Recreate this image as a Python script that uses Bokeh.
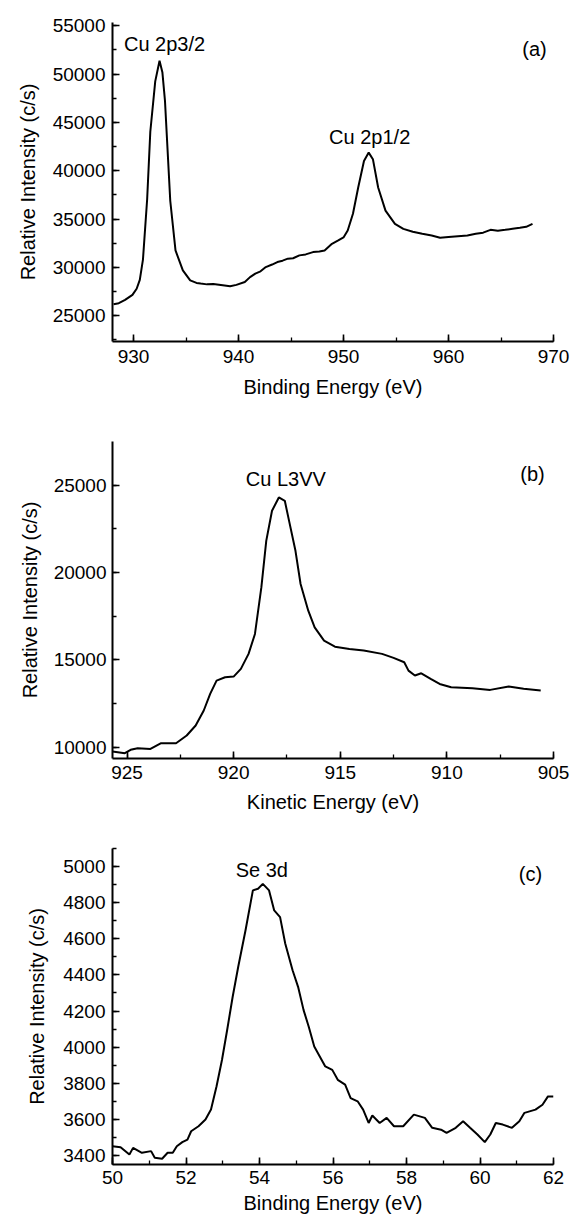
from bokeh.plotting import figure
from bokeh.models import Range1d, SingleIntervalTicker, Label
from bokeh.layouts import column
from bokeh.embed import file_html
from bokeh.resources import INLINE

FONT = "Liberation Sans"

# ---- Panel (a): Cu 2p ----
a_energy = [928.1, 928.6, 929.2, 929.9, 930.3, 930.6, 930.9, 931.3, 931.6, 932.07, 932.48,
            932.75, 933.0, 933.5, 934.0, 934.7, 935.4, 936.0, 936.4, 937.0, 937.6, 938.5, 939.2,
            939.8, 940.6, 941.1, 941.6, 942.1, 942.6, 943.2, 943.7, 944.2, 944.7, 945.2, 945.8,
            946.4, 947.1, 947.7, 948.2, 948.9, 949.5, 950.0, 950.4, 950.9, 951.4, 951.95, 952.4,
            952.8, 953.3, 954.0, 954.9, 955.7, 956.6, 957.5, 958.4, 959.2, 960.0, 960.9, 961.8,
            962.6, 963.3, 964.0, 964.7, 965.4, 966.1, 966.8, 967.4, 968.0]
a_intensity = [26200, 26300, 26640, 27160, 27800, 28720, 30800, 37060, 44040, 49250, 51380,
               50200, 47200, 36900, 31760, 29700, 28670, 28400, 28330, 28250, 28300, 28160, 28050,
               28200, 28500, 29000, 29360, 29600, 30040, 30300, 30560, 30700, 30910, 30950, 31250,
               31350, 31590, 31650, 31760, 32450, 32790, 33100, 33820, 35560, 38270, 41020, 41880,
               41200, 38270, 35880, 34510, 33990, 33700, 33480, 33300, 33070, 33150, 33230, 33300,
               33480, 33600, 33890, 33800, 33890, 34000, 34100, 34200, 34510]

# ---- Panel (b): Cu L3VV ----
b_energy = [925.68, 925.1, 924.83, 924.5, 923.9, 923.4, 922.7, 922.2, 921.78, 921.4, 921.1,
            920.8, 920.4, 920.0, 919.66, 919.3, 919.0, 918.7, 918.47, 918.2, 917.88, 917.6,
            917.4, 917.1, 916.86, 916.5, 916.2, 915.76, 915.25, 914.57, 913.9, 913.04, 912.5,
            912.0, 911.8, 911.5, 911.2, 910.76, 910.34, 909.8, 908.8, 907.97, 907.1, 906.4,
            905.6]
b_intensity = [9754, 9660, 9850, 9940, 9900, 10230, 10230, 10670, 11240, 12100, 13050,
               13810, 14000, 14040, 14480, 15340, 16480, 19140, 21810, 23530, 24290, 24100,
               22950, 21240, 19340, 17810, 16860, 16100, 15750, 15620, 15530, 15340, 15110,
               14860, 14380, 14100, 14230, 13910, 13620, 13430, 13370, 13280, 13470, 13340,
               13240]

# ---- Panel (c): Se 3d ----
c_energy = [50.0, 50.22, 50.46, 50.56, 50.8, 51.05, 51.15, 51.35, 51.5, 51.64, 51.75, 51.9,
            52.04, 52.14, 52.34, 52.53, 52.68, 52.83, 52.98, 53.12, 53.27, 53.42, 53.62, 53.82,
            53.96, 54.09, 54.26, 54.4, 54.56, 54.7, 54.9, 55.05, 55.2, 55.34, 55.49, 55.64,
            55.79, 55.98, 56.13, 56.33, 56.48, 56.67, 56.82, 56.97, 57.07, 57.27, 57.46, 57.66,
            57.91, 58.2, 58.5, 58.7, 58.94, 59.09, 59.34, 59.54, 59.73, 59.93, 60.13, 60.28,
            60.43, 60.62, 60.87, 61.07, 61.21, 61.51, 61.7, 61.85, 62.0]
c_intensity = [3451, 3446, 3405, 3442, 3415, 3424, 3387, 3382, 3415, 3415, 3451, 3474,
               3488, 3534, 3562, 3599, 3654, 3782, 3930, 4095, 4279, 4444, 4647, 4868,
               4877, 4904, 4868, 4757, 4720, 4574, 4426, 4334, 4205, 4113, 4003, 3948,
               3893, 3874, 3819, 3792, 3718, 3700, 3654, 3580, 3621, 3580, 3608, 3562,
               3562, 3626, 3608, 3553, 3543, 3525, 3553, 3589, 3553, 3516, 3474, 3516,
               3580, 3571, 3553, 3589, 3636, 3654, 3681, 3727, 3727]

W = 574
panels = [
    dict(x=a_energy, y=a_intensity, xr=(928.0, 970.0), yr=(22340, 55340),
         xint=10, yint=5000, xlabel="Binding Energy (eV)", tag="(a)",
         peaks=[("Cu 2p3/2", a_energy[10], a_intensity[10], 5, 6),
                ("Cu 2p1/2", a_energy[46], a_intensity[46], 1, 5)],
         h=410, bl=108, bt=22, fh=319, tagpos=(422, 293),
         xls=8, xas=10, yls=7, yas=11),
    dict(x=b_energy, y=b_intensity, xr=(925.68, 905.0), yr=(9354, 27493),
         xint=5, yint=5000, xlabel="Kinetic Energy (eV)", tag="(b)",
         peaks=[("Cu L3VV", b_energy[20], b_intensity[20], 7, 7)],
         h=412, bl=112, bt=31, fh=317, tagpos=(420, 285),
         xls=7, xas=9, yls=6, yas=10),
    dict(x=c_energy, y=c_intensity, xr=(50, 62), yr=(3350, 5100),
         xint=2, yint=200, xlabel="Binding Energy (eV)", tag="(c)",
         peaks=[("Se 3d", c_energy[25], c_intensity[25], -1, 3)],
         h=402, bl=107, bt=26, fh=316, tagpos=(418, 291),
         xls=6, xas=5, yls=7, yas=12),
]

figs = []
for P in panels:
    br = W - P["bl"] - 446
    bb = P["h"] - P["bt"] - P["fh"]
    p = figure(width=W, height=P["h"], output_backend="svg", toolbar_location=None,
               x_range=Range1d(*P["xr"]), y_range=Range1d(*P["yr"]),
               min_border_left=P["bl"], min_border_right=br,
               min_border_top=P["bt"], min_border_bottom=bb)
    p.outline_line_color = None
    p.grid.visible = False
    p.background_fill_color = "white"
    p.border_fill_color = "white"
    p.line(P["x"], P["y"], line_color="black", line_width=2)

    p.xaxis.ticker = SingleIntervalTicker(interval=P["xint"], num_minor_ticks=2)
    p.yaxis.ticker = SingleIntervalTicker(interval=P["yint"], num_minor_ticks=2)
    for ax in (p.xaxis[0], p.yaxis[0]):
        ax.axis_line_width = 2
        ax.axis_line_color = "black"
        ax.major_tick_in = 7
        ax.major_tick_out = 0
        ax.minor_tick_in = 4
        ax.minor_tick_out = 0
        ax.major_tick_line_width = 1.6
        ax.minor_tick_line_width = 1.3
        ax.major_label_text_font = FONT
        ax.major_label_text_font_size = "19px"
        ax.major_label_text_color = "black"
        ax.axis_label_text_font = FONT
        ax.axis_label_text_font_size = "20px"
        ax.axis_label_text_font_style = "normal"
        ax.axis_label_text_color = "black"
    p.xaxis.axis_label = P["xlabel"]
    p.yaxis.axis_label = "Relative Intensity (c/s)"
    p.xaxis.major_label_standoff = P["xls"]
    p.xaxis.axis_label_standoff = P["xas"]
    p.yaxis.major_label_standoff = P["yls"]
    p.yaxis.axis_label_standoff = P["yas"]

    for (txt, px, py, dx, dy) in P["peaks"]:
        p.add_layout(Label(x=px, y=py, text=txt, x_offset=dx, y_offset=dy,
                           text_align="center", text_baseline="bottom",
                           text_font=FONT, text_font_size="20px", text_color="black"))
    p.add_layout(Label(x=P["tagpos"][0], y=P["tagpos"][1], x_units="screen", y_units="screen",
                       text=P["tag"], text_align="center", text_baseline="middle",
                       text_font=FONT, text_font_size="20px", text_color="black"))
    figs.append(p)

layout = column(*figs, spacing=0)
open("out.html", "w").write(file_html(layout, INLINE))
